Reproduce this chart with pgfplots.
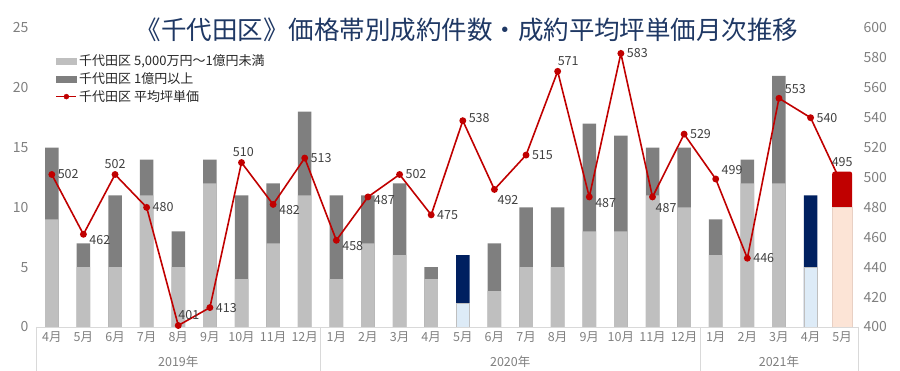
\documentclass[border=0pt]{standalone}
\usepackage{fontspec}
\setmainfont{Noto Sans CJK JP}
\usepackage{pgfplots}
\usepackage{pgfplotstable}
\pgfplotsset{compat=1.18}
\definecolor{lgray}{HTML}{BFBFBF}
\definecolor{dgray}{HTML}{7F7F7F}
\definecolor{lblue}{HTML}{DDEBF7}
\definecolor{navy}{HTML}{002060}
\definecolor{peach}{HTML}{FCE4D6}
\definecolor{peachedge}{HTML}{E8D0C4}
\definecolor{dred}{HTML}{C00000}
\definecolor{ticktext}{HTML}{7F7F7F}
\definecolor{labtext}{HTML}{404040}
\definecolor{legtext}{HTML}{262626}
\definecolor{titleblue}{HTML}{1F3864}
\definecolor{gridc}{HTML}{D9D9D9}

\pgfplotstableread{
x low total
0 9 15
1 5 7
2 5 11
3 11 14
4 5 8
5 12 14
6 4 11
7 7 12
8 11 18
9 4 11
10 7 11
11 6 12
12 4 5
14 3 7
15 5 10
16 5 10
17 8 17
18 8 16
19 11 15
20 10 15
21 6 9
22 12 14
23 12 21
}\graybars
\pgfplotstableread{
x low total
13 2 6
24 5 11
}\bluebars
\pgfplotstableread{
x low total
25 10 13
}\redbars
\pgfplotstableread{
x price
0 502
1 462
2 502
3 480
4 401
5 413
6 510
7 482
8 513
9 458
10 487
11 502
12 475
13 538
14 492
15 515
16 571
17 487
18 583
19 487
20 529
21 499
22 446
23 553
24 540
25 495
}\price

\pgfplotsset{lbl/.style={draw=none, mark=none, forget plot, nodes near coords,
  every node near coord/.append style={anchor=#1, inner sep=3.5pt, outer sep=2.5pt, font=\fontsize{12.5}{13}\selectfont, text=labtext}}}

\begin{document}
\begin{tikzpicture}
\begin{axis}[
  at={(0pt,0pt)}, anchor=south west,
  scale only axis, width=822pt, height=299pt,
  xmin=-0.5, xmax=25.5, ymin=0, ymax=25,
  axis line style={draw=none},
  major tick length=0pt,
  xtick={0,...,25},
  xticklabels={4月,5月,6月,7月,8月,9月,10月,11月,12月,1月,2月,3月,4月,5月,6月,7月,8月,9月,10月,11月,12月,1月,2月,3月,4月,5月},
  ytick={0,5,...,25},
  ticklabel style={text=ticktext},
  xticklabel style={font=\fontsize{12.5}{13}\selectfont, yshift=-1pt},
  yticklabel style={font=\fontsize{14}{14}\selectfont, xshift=-4pt},
  /pgf/number format/assume math mode=true,
  clip=false,
]
\addplot[ybar, bar shift=0pt, bar width=13.5pt, fill=dgray, draw=none] table[x=x,y=total]{\graybars};
\addplot[ybar, bar shift=0pt, bar width=13.5pt, fill=lgray, draw=none] table[x=x,y=low]{\graybars};
\addplot[ybar, bar shift=0pt, bar width=13.5pt, fill=navy, draw=none] table[x=x,y=total]{\bluebars};
\addplot[ybar, bar shift=0pt, bar width=13.5pt, fill=lblue, draw=lgray, line width=0.4pt] table[x=x,y=low]{\bluebars};
\addplot[ybar, bar shift=0pt, bar width=20pt, fill=dred, draw=none, rounded corners=2.5pt] table[x=x,y=total]{\redbars};
\addplot[ybar, bar shift=0pt, bar width=20pt, fill=peach, draw=peachedge, line width=0.4pt] table[x=x,y=low]{\redbars};
\draw[gridc] (axis cs:-0.5,0) -- (axis cs:25.5,0);
\draw[gridc] (axis cs:-0.5,0) -- ++(0pt,-44pt);
\draw[gridc] (axis cs:8.5,0) -- ++(0pt,-44pt);
\draw[gridc] (axis cs:20.5,0) -- ++(0pt,-44pt);
\draw[gridc] (axis cs:25.5,0) -- ++(0pt,-44pt);
\node[font=\fontsize{12.5}{13}\selectfont, text=ticktext, yshift=-35pt] at (axis cs:4,0) {2019年};
\node[font=\fontsize{12.5}{13}\selectfont, text=ticktext, yshift=-35pt] at (axis cs:14.5,0) {2020年};
\node[font=\fontsize{12.5}{13}\selectfont, text=ticktext, yshift=-35pt] at (axis cs:23,0) {2021年};
\end{axis}
\begin{axis}[
  at={(0pt,0pt)}, anchor=south west,
  scale only axis, width=822pt, height=299pt,
  xmin=-0.5, xmax=25.5, ymin=400, ymax=600,
  axis line style={draw=none},
  major tick length=0pt,
  xtick=\empty,
  ytick={400,420,...,600},
  yticklabel pos=right,
  ticklabel style={text=ticktext},
  yticklabel style={font=\fontsize{14}{14}\selectfont, xshift=2pt},
  /pgf/number format/assume math mode=true,
  legend style={at={(0.02,0.925)}, anchor=north west, draw=none, fill=none,
    font=\fontsize{13}{13}\selectfont, text=legtext, cells={anchor=west}, row sep=1.5pt},
  clip=false,
]
\addlegendimage{legend image code/.code={\fill[lgray] (0pt,-3pt) rectangle (20pt,3pt);}}
\addlegendentry{千代田区 5,000万円～1億円未満}
\addlegendimage{legend image code/.code={\fill[dgray] (0pt,-3pt) rectangle (20pt,3pt);}}
\addlegendentry{千代田区 1億円以上}
\addlegendimage{legend image code/.code={\draw[dred, line width=1.5pt] (0pt,0pt) -- (20pt,0pt); \fill[dred] (10pt,0pt) circle (2.5pt);}}
\addlegendentry{千代田区 平均坪単価}
\addplot[dred, line width=1.6pt, mark=*, mark size=2.6pt, mark options={fill=dred, draw=dred}, forget plot] table[x=x,y=price]{\price};
% data labels grouped by position
\addplot[lbl=180] coordinates {(0,502) (3,480) (5,413) (8,513) (11,502) (12,475) (15,515) (18,583) (20,529) (22,446) (24,540)};
\addplot[lbl=160] coordinates {(1,462) (7,482) (9,458) (17,487)};
\addplot[lbl=170] coordinates {(10,487)};
\addplot[lbl=190] coordinates {(13,538)};
\addplot[lbl=270] coordinates {(2,502)};
\addplot[lbl=260] coordinates {(6,510)};
\addplot[lbl=225] coordinates {(4,401) (16,571)};
\addplot[lbl=142] coordinates {(14,492) (19,487)};
\addplot[lbl=208] coordinates {(21,499) (23,553)};
\addplot[lbl=270, every node near coord/.append style={yshift=12pt}] coordinates {(25,495)};
\end{axis}
\node[font=\fontsize{25.5}{26}\selectfont, text=titleblue] at (431pt,297pt) {《千代田区》価格帯別成約件数・成約平均坪単価月次推移};
\pgfresetboundingbox
\path (-36pt,-44pt) rectangle (864pt,327pt);
\end{tikzpicture}
\end{document}
